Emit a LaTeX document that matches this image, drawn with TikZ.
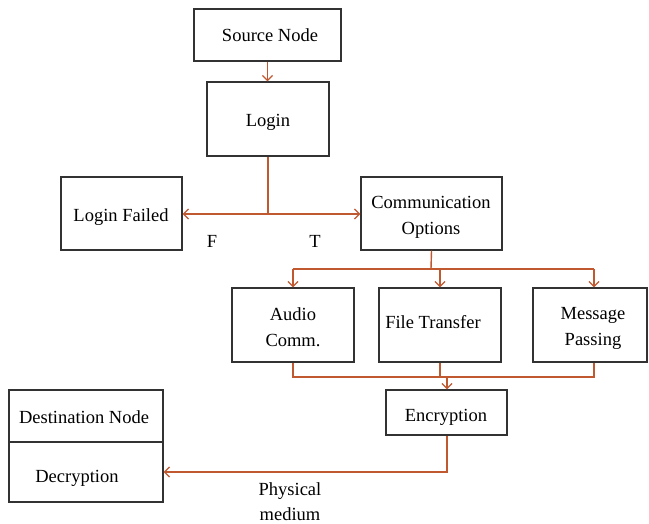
\documentclass[tikz,border=0pt]{standalone}
\usepackage{fontspec}
\setmainfont{Liberation Serif}
\usetikzlibrary{arrows.meta}
\definecolor{conn}{RGB}{192,88,48}
\definecolor{boxline}{RGB}{50,50,50}
\begin{document}
\begin{tikzpicture}[x=1pt,y=-1pt,
  box/.style={draw=boxline,line width=1.3pt,rectangle,inner sep=0pt},
  lbl/.style={inner sep=0pt,align=center,font=\fontsize{18.5}{26}\selectfont},
  wire/.style={draw=conn,line width=1.4pt},
  arr/.style={wire,-{Straight Barb[length=5pt,width=10pt,line width=1.3pt]}}]
\useasboundingbox (0,0) rectangle (649,524);
% boxes
\node[box,minimum width=147pt,minimum height=52pt] (src) at (267.5,35) {};
\node[box,minimum width=122pt,minimum height=74pt] (login) at (268,119) {};
\node[box,minimum width=121pt,minimum height=73pt] (fail) at (121.5,213.5) {};
\node[box,minimum width=141pt,minimum height=73pt] (comm) at (431.5,213.5) {};
\node[box,minimum width=122pt,minimum height=74pt] (audio) at (293,325) {};
\node[box,minimum width=122pt,minimum height=74pt] (file) at (440,325) {};
\node[box,minimum width=114pt,minimum height=74pt] (msg) at (590,325) {};
\node[box,minimum width=121pt,minimum height=45pt] (enc) at (446.5,412.5) {};
\node[box,minimum width=154pt,minimum height=52pt] (dtop) at (86,416) {};
\node[box,minimum width=154pt,minimum height=60pt] (dbot) at (86,472) {};
% box texts
\node[lbl] (tsrc) at (270,35) {Source Node};
\node[lbl] (tlogin) at (268,122) {Login};
\node[lbl] (tfail) at (121,217) {Login Failed};
\node[lbl] (tcomm) at (431,217.5) {Communication\\Options};
\node[lbl] (taudio) at (293,327.5) {Audio\\Comm.};
\node[lbl] (tfile) at (433,322) {File Transfer};
\node[lbl] (tmsg) at (593,328) {Message\\Passing};
\node[lbl] (tenc) at (446,417) {Encryption};
\node[lbl] (tdtop) at (84,417) {Destination Node};
\node[lbl] (tdbot) at (77,478) {Decryption};
% labels
\node[lbl] (lf) at (212,241) {F};
\node[lbl] (lt) at (315,241) {T};
\node[lbl] (phys) at (290,491) {Physical};
\node[lbl] (med) at (290,514) {medium};
% junction coordinates
\coordinate (j1) at (268,214);
\coordinate (j2) at (431,269);
\coordinate (jl) at (293,269);
\coordinate (jm) at (440,269);
\coordinate (jr) at (594,269);
\coordinate (bl) at (293,377);
\coordinate (br) at (594,377);
\coordinate (bm) at (440,377);
\coordinate (b3) at (447,377);
% connectors
\draw[arr] (src.south) -- (src.south |- login.north);
\draw[wire] (login.south) -- (j1);
\draw[arr] (j1) -- (j1 -| fail.east);
\draw[arr] (j1) -- (j1 -| comm.west);
\draw[wire] (comm.south) -- (j2);
\draw[wire] (jl) -- (jr);
\draw[arr] (jl) -- (jl |- audio.north);
\draw[arr] (jm) -- (jm |- file.north);
\draw[arr] (jr) -- (jr |- msg.north);
\draw[wire] (bl |- audio.south) -- (bl) -- (br) -- (br |- msg.south);
\draw[wire] (bm |- file.south) -- (bm);
\draw[arr] (b3) -- (b3 |- enc.north);
\draw[arr] (b3 |- enc.south) |- (dbot.east);
\end{tikzpicture}
\end{document}
